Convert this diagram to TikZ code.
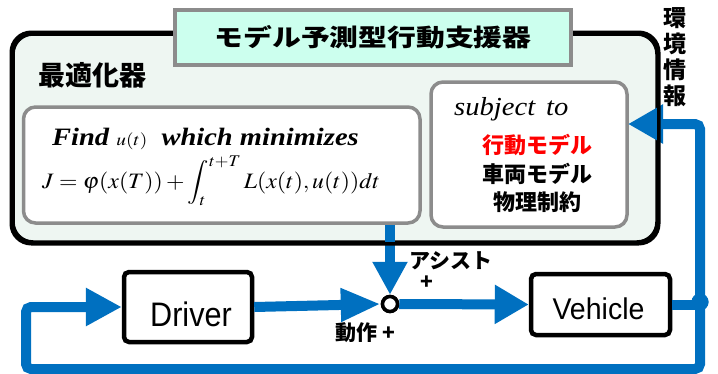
\documentclass[tikz,border=0pt]{standalone}
\usepackage{mathptmx}
\usepackage[no-math]{fontspec}
\setmainfont{Liberation Serif}
\newfontfamily\jp{Noto Sans CJK JP}
\newfontfamily\arial{Liberation Sans}
\usetikzlibrary{arrows.meta}
\definecolor{flowblue}{HTML}{0070C0}
\definecolor{outerfill}{HTML}{EEF6F2}
\definecolor{titlefill}{HTML}{CCFFEE}
\definecolor{framegray}{HTML}{8C8C8C}
\newcommand{\jpfs}[1]{\jp\bfseries\fontsize{#1}{#1}\selectfont}
\begin{document}
\begin{tikzpicture}[x=1pt,y=-1pt,
  innerbox/.style={draw=framegray, line width=3.5pt, fill=white, rounded corners=12pt, inner sep=0},
  blockbox/.style={draw=black, line width=4.5pt, fill=white, rounded corners=5pt, inner sep=0},
  flowline/.style={draw=flowblue, line width=10pt},
  txt/.style={inner sep=0}]
\useasboundingbox (0,0) rectangle (718,373);
% outer optimizer frame
\node[draw=black, line width=3.5pt, fill=outerfill, rounded corners=20pt,
      minimum width=644pt, minimum height=208pt, inner sep=0] (outer) at (335,138) {};
\node[txt] (optlabel) at (92,75) {\jpfs{27}最適化器};
% inner boxes
\node[innerbox, minimum width=396.5pt, minimum height=116pt] (optbox) at (221.75,165) {};
\node[innerbox, minimum width=196pt, minimum height=145pt] (subbox) at (529,154.5) {};
\node[txt, anchor=base west] (find) at (52,145)
  {\scalebox{1.14}[1]{\fontsize{25}{25}\selectfont\bfseries\itshape Find {\mdseries\upshape\fontsize{17}{17}\selectfont$u(t)$}\ \ which minimizes}};
\node[txt, anchor=base west] (eq) at (42,188)
  {\scalebox{1.08}[1]{\fontsize{22}{22}\selectfont$\displaystyle J=\varphi(x(T))+\int_t^{t+T}L(x(t),u(t))dt$}};
\node[txt, anchor=base west] (subj) at (454,115)
  {\scalebox{1.1}[1]{\fontsize{26}{26}\selectfont\itshape subject\hspace{10pt}to}};
\node[txt, text=red] (m1) at (537,145) {\jpfs{22}行動モデル};
\node[txt] (m2) at (537,174) {\jpfs{22}車両モデル};
\node[txt] (m3) at (537,202) {\jpfs{22}物理制約};
% environment info label
\node[txt, align=center, font={\jp\bfseries\fontsize{23}{26}\selectfont}] (env) at (675,57) {環\\境\\情\\報};
% lower loop blocks
\node[blockbox, minimum width=128pt, minimum height=70pt] (driver) at (188,307) {};
\node[txt, anchor=base] (driverlbl) at (191,326) {\arial\fontsize{34}{34}\selectfont\scalebox{0.9}[1]{Driver}};
\node[blockbox, minimum width=139pt, minimum height=61pt] (vehicle) at (600.5,304.5) {};
\node[txt, anchor=base] (vehiclelbl) at (598.5,319) {\arial\fontsize{30}{30}\selectfont\scalebox{0.95}[1]{Vehicle}};
\node[circle, draw=black, line width=3.5pt, fill=white, minimum size=15pt, inner sep=0] (sum) at (390,304) {};
\coordinate (envin) at (628,124);
\coordinate (br) at (700,369);
\coordinate (bl) at (26,369);
\node[circle, fill=flowblue, minimum size=17pt, inner sep=0] (dot) at (700,302) {};
% connectors
\draw[flowline, rounded corners=5pt, -{Triangle[length=36pt,width=36pt]}] (dot.center) -- (br) -- (bl) |- (driver.west);
\draw[flowline, rounded corners=5pt, -{Triangle[length=35pt,width=37pt]}] (dot.center) |- (envin);
\draw[flowline] (vehicle.east) -- (vehicle.east -| dot.center);
\draw[flowline, -{Triangle[length=40pt,width=31pt]}] (driver.east) -- (sum.west);
\draw[flowline, -{Triangle[length=34pt,width=37pt]}] (sum.east) -- (vehicle.west);
\draw[flowline, -{Triangle[length=33pt,width=33pt]}] (sum |- optbox.south) -- (sum.north);
\node[circle, fill=flowblue, minimum size=17pt, inner sep=0] at (dot.center) {};
\node[circle, draw=black, line width=3.5pt, fill=white, minimum size=15pt, inner sep=0] at (sum.center) {};
% outer border on top of connectors
\draw[black, line width=3.5pt, rounded corners=20pt] (outer.north west) rectangle (outer.south east);
% title on top of the frame
\node[draw=framegray, line width=3.5pt, fill=titlefill, minimum width=396pt,
      minimum height=55pt, inner sep=0] (title) at (373,37.5)
      {\scalebox{1.2}[1]{\jpfs{24}モデル予測型行動支援器}};
% signs
\node[txt] (assist) at (451,261) {\jpfs{21}アシスト};
\node[txt] (plusa) at (427,283) {\jpfs{21}+};
\node[txt] (action) at (365,333) {\jpfs{21}動作 +};
\end{tikzpicture}
\end{document}
